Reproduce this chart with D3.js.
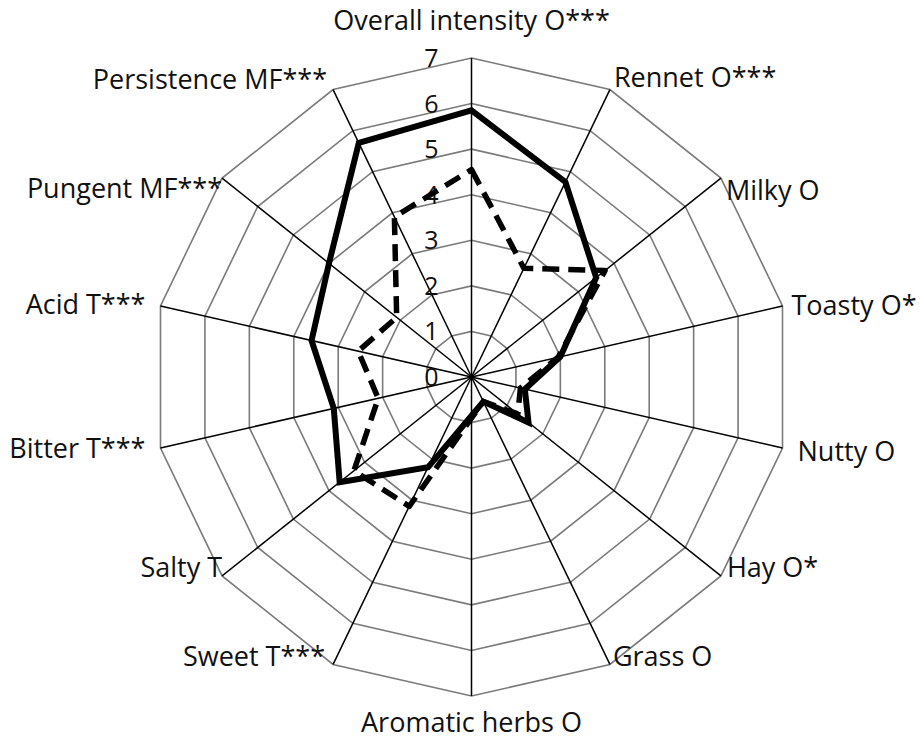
<!DOCTYPE html>
<html>
<head>
<meta charset="utf-8">
<script src="https://cdn.jsdelivr.net/npm/d3@7"></script>
<style>
  body { margin: 0; background: #fff; }
  svg { display: block; }
  text { font-family: "Open Sans", Lato, sans-serif; fill: #111; }
</style>
</head>
<body>
<svg id="chart" width="921" height="743"></svg>
<script>
// attributes, clockwise from the top
const attributes = [
  "Overall intensity O***", "Rennet O***", "Milky O", "Toasty O*", "Nutty O",
  "Hay O*", "Grass O", "Aromatic herbs O", "Sweet T***", "Salty T",
  "Bitter T***", "Acid T***", "Pungent MF***", "Persistence MF***"
];
const cheeseSolid  = [5.85, 4.75, 3.5, 2.0, 1.2, 1.6, 0.6, 0.85, 2.2, 3.7, 3.1, 3.6, 4.0, 5.7];
const cheeseDashed = [4.55, 2.65, 3.75, 1.95, 1.1, 1.3, 0.6, 0.9, 3.15, 3.3, 2.1, 2.55, 2.1, 3.9];
const ticks = [0, 1, 2, 3, 4, 5, 6, 7];

const width = 921, height = 743;
const cx = 471.5, cy = 377, R = 319;
const svg = d3.select("#chart");

const r = d3.scaleLinear().domain([0, 7]).range([0, R]);
const angle = d3.scalePoint().domain(d3.range(attributes.length + 1)).range([0, 2 * Math.PI]);

function pt(i, v) {
  const a = angle(i);
  return [cx + r(v) * Math.sin(a), cy - r(v) * Math.cos(a)];
}

const g = svg.append("g");

// rings
g.selectAll(".ring")
  .data(ticks.slice(1))
  .join("polygon")
  .attr("class", "ring")
  .attr("points", t => attributes.map((d, i) => pt(i, t).join(",")).join(" "))
  .attr("fill", "none")
  .attr("stroke", "#7a7a7a")
  .attr("stroke-width", 1.6);

// spokes
g.selectAll(".spoke")
  .data(attributes)
  .join("line")
  .attr("class", "spoke")
  .attr("x1", cx).attr("y1", cy)
  .attr("x2", (d, i) => pt(i, 7)[0])
  .attr("y2", (d, i) => pt(i, 7)[1])
  .attr("stroke", "#000")
  .attr("stroke-width", 1.5);

// scale labels
g.selectAll(".tick")
  .data(ticks)
  .join("text")
  .attr("class", "tick")
  .attr("x", cx - 33)
  .attr("y", t => cy - r(t))
  .attr("dy", "0.36em")
  .attr("text-anchor", "end")
  .attr("font-size", 25)
  .text(t => t);

// series
const line = d3.line().curve(d3.curveLinearClosed);

g.append("path")
  .datum(cheeseDashed)
  .attr("d", vals => line(vals.map((v, i) => pt(i, v))))
  .attr("fill", "none")
  .attr("stroke", "#000")
  .attr("stroke-width", 5.5)
  .attr("stroke-dasharray", "17,9")
  .attr("stroke-linejoin", "round");

g.append("path")
  .datum(cheeseSolid)
  .attr("d", vals => line(vals.map((v, i) => pt(i, v))))
  .attr("fill", "none")
  .attr("stroke", "#000")
  .attr("stroke-width", 6)
  .attr("stroke-linejoin", "miter");

// category labels: nudges away from the outer vertex
const labelNudge = [
  [0, -38], [4, -12], [5, 12], [9, -1], [15, 3], [6, -9], [3, -8],
  [0, 26], [-8, -8], [0, -9], [-15, 0], [-15, -2], [0, 10], [-6, -10]
];

g.selectAll(".label")
  .data(attributes)
  .join("text")
  .attr("class", "label")
  .attr("x", (d, i) => pt(i, 7)[0] + labelNudge[i][0])
  .attr("y", (d, i) => pt(i, 7)[1] + labelNudge[i][1])
  .attr("dy", "0.36em")
  .attr("text-anchor", (d, i) => {
    const s = Math.sin(angle(i));
    return s > 0.05 ? "start" : s < -0.05 ? "end" : "middle";
  })
  .attr("font-size", 27)
  .text(d => d);
</script>
</body>
</html>
